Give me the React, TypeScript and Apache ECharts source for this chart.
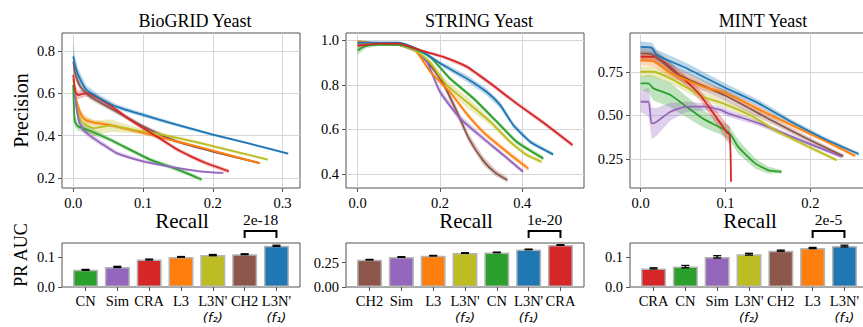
import React, { useEffect, useRef } from "react";
import * as echarts from "echarts";

const SERIF = "Liberation Serif";

const COLORS: Record<string, string> = {
  CN: "#2ca02c", Sim: "#9467bd", CRA: "#d62728", L3: "#ff7f0e", L3Nf2: "#bcbd22", CH2: "#8c564b", L3Nf1: "#1f77b4",
};

const LABELS: Record<string, string> = {
  CN: "CN", Sim: "Sim", CRA: "CRA", L3: "L3", CH2: "CH2",
  L3Nf2: "L3N'\n{i|(f₂)}",
  L3Nf1: "L3N'\n{i|(f₁)}",
};

const TITLES = ["BioGRID Yeast", "STRING Yeast", "MINT Yeast"];

// ---- PR curves: [recall, precision, band half-width] ----
const bioCH2 = [[0, 0.75, 0.04], [0.003, 0.69, 0.03], [0.01, 0.632, 0.02], [0.024, 0.585, 0.015], [0.053, 0.53, 0.012], [0.1, 0.444, 0.01], [0.148, 0.373, 0.008], [0.2, 0.325, 0.006], [0.267, 0.271, 0.005]];
const bioL3 = [[0, 0.64, 0.02], [0.005, 0.56, 0.02], [0.01, 0.507, 0.02], [0.017, 0.475, 0.015], [0.03, 0.462, 0.012], [0.053, 0.45, 0.01], [0.1, 0.413, 0.008], [0.148, 0.373, 0.007], [0.2, 0.33, 0.006], [0.267, 0.27, 0.005]];
const bioL3Nf2 = [[0, 0.67, 0.03], [0.005, 0.53, 0.04], [0.012, 0.467, 0.04], [0.029, 0.436, 0.035], [0.053, 0.448, 0.03], [0.086, 0.428, 0.015], [0.12, 0.41, 0.01], [0.181, 0.366, 0.008], [0.279, 0.287, 0.005]];
const bioCN = [[0, 0.64, 0.03], [0.002, 0.47, 0.03], [0.007, 0.443, 0.02], [0.021, 0.427, 0.015], [0.053, 0.381, 0.01], [0.086, 0.326, 0.01], [0.11, 0.287, 0.01], [0.143, 0.248, 0.01], [0.165, 0.22, 0.01], [0.184, 0.193, 0.01]];
const bioSim = [[0.002, 0.6, 0.03], [0.006, 0.5, 0.03], [0.012, 0.44, 0.02], [0.022, 0.405, 0.015], [0.039, 0.366, 0.012], [0.062, 0.318, 0.01], [0.1, 0.279, 0.008], [0.148, 0.248, 0.006], [0.181, 0.232, 0.005], [0.215, 0.224, 0.005]];
const bioCRA = [[0, 0.687, 0.03], [0.003, 0.608, 0.03], [0.007, 0.592, 0.02], [0.017, 0.6, 0.015], [0.026, 0.594, 0.012], [0.05, 0.55, 0.01], [0.075, 0.49, 0.01], [0.1, 0.436, 0.01], [0.125, 0.385, 0.01], [0.148, 0.337, 0.01], [0.17, 0.3, 0.01], [0.19, 0.271, 0.01], [0.223, 0.232, 0.01]];
const bioL3Nf1 = [[0, 0.775, 0.07], [0.002, 0.74, 0.04], [0.007, 0.687, 0.03], [0.019, 0.616, 0.02], [0.038, 0.577, 0.015], [0.062, 0.537, 0.012], [0.1, 0.498, 0.01], [0.148, 0.452, 0.008], [0.2, 0.405, 0.006], [0.253, 0.362, 0.005], [0.308, 0.315, 0.005]];

const strCH2 = [[0, 0.985, 0.01], [0.05, 0.985, 0.004], [0.1, 0.98, 0.004], [0.14, 0.955, 0.006], [0.176, 0.889, 0.01], [0.208, 0.805, 0.015], [0.241, 0.68, 0.02], [0.27, 0.56, 0.02], [0.305, 0.46, 0.02], [0.335, 0.405, 0.015], [0.364, 0.373, 0.012]];
const strL3 = [[0, 0.995, 0.005], [0.05, 0.985, 0.004], [0.1, 0.98, 0.004], [0.14, 0.955, 0.006], [0.176, 0.86, 0.01], [0.224, 0.768, 0.012], [0.265, 0.67, 0.012], [0.305, 0.588, 0.012], [0.362, 0.5, 0.012], [0.415, 0.424, 0.012]];
const strSim = [[0, 0.99, 0.005], [0.05, 0.985, 0.004], [0.1, 0.98, 0.004], [0.14, 0.955, 0.006], [0.168, 0.904, 0.01], [0.2, 0.769, 0.015], [0.249, 0.65, 0.015], [0.305, 0.56, 0.012], [0.354, 0.485, 0.01], [0.402, 0.41, 0.01]];
const strL3Nf2 = [[0, 0.99, 0.01], [0.05, 0.985, 0.005], [0.1, 0.98, 0.005], [0.14, 0.955, 0.008], [0.176, 0.9, 0.015], [0.216, 0.8, 0.02], [0.265, 0.724, 0.025], [0.322, 0.635, 0.015], [0.37, 0.545, 0.012], [0.411, 0.485, 0.01], [0.447, 0.455, 0.01]];
const strCN = [[0, 0.955, 0.02], [0.02, 0.975, 0.01], [0.05, 0.98, 0.005], [0.1, 0.98, 0.005], [0.14, 0.96, 0.006], [0.176, 0.926, 0.008], [0.224, 0.829, 0.01], [0.281, 0.74, 0.01], [0.338, 0.635, 0.01], [0.386, 0.545, 0.01], [0.451, 0.47, 0.01]];
const strL3Nf1 = [[0, 0.99, 0.01], [0.05, 0.99, 0.004], [0.1, 0.99, 0.004], [0.151, 0.956, 0.006], [0.2, 0.897, 0.01], [0.265, 0.829, 0.015], [0.313, 0.769, 0.015], [0.346, 0.71, 0.015], [0.378, 0.62, 0.012], [0.419, 0.545, 0.01], [0.475, 0.488, 0.008]];
const strCRA = [[0, 0.975, 0.01], [0.05, 0.985, 0.005], [0.1, 0.985, 0.005], [0.151, 0.956, 0.006], [0.208, 0.926, 0.008], [0.265, 0.882, 0.01], [0.322, 0.807, 0.01], [0.386, 0.717, 0.01], [0.459, 0.62, 0.01], [0.522, 0.53, 0.01]];

const mintCH2 = [[0, 0.855, 0.04], [0.015, 0.846, 0.04], [0.042, 0.74, 0.035], [0.099, 0.615, 0.03], [0.158, 0.462, 0.02], [0.198, 0.362, 0.015], [0.239, 0.267, 0.012]];
const mintL3 = [[0, 0.817, 0.03], [0.015, 0.81, 0.03], [0.035, 0.745, 0.025], [0.074, 0.664, 0.02], [0.099, 0.63, 0.02], [0.158, 0.49, 0.015], [0.217, 0.355, 0.012], [0.253, 0.268, 0.01]];
const mintL3Nf2 = [[0, 0.75, 0.03], [0.015, 0.75, 0.03], [0.035, 0.712, 0.03], [0.074, 0.607, 0.025], [0.099, 0.565, 0.02], [0.129, 0.502, 0.02], [0.158, 0.416, 0.015], [0.198, 0.32, 0.012], [0.231, 0.244, 0.01]];
const mintCN = [[0, 0.683, 0.04], [0.009, 0.683, 0.05], [0.015, 0.655, 0.07], [0.035, 0.617, 0.07], [0.054, 0.55, 0.06], [0.074, 0.48, 0.05], [0.094, 0.43, 0.04], [0.105, 0.397, 0.04], [0.115, 0.32, 0.04], [0.135, 0.225, 0.03], [0.15, 0.187, 0.02], [0.166, 0.177, 0.01]];
const mintSim = [[0, 0.578, 0.06], [0.009, 0.578, 0.08], [0.013, 0.454, 0.09], [0.019, 0.464, 0.08], [0.035, 0.521, 0.05], [0.054, 0.55, 0.03], [0.074, 0.55, 0.02], [0.094, 0.531, 0.02], [0.103, 0.512, 0.02], [0.139, 0.455, 0.015], [0.178, 0.378, 0.012], [0.217, 0.302, 0.01], [0.237, 0.263, 0.01]];
const mintCRA = [[0, 0.836, 0.03], [0.015, 0.836, 0.03], [0.027, 0.807, 0.03], [0.05, 0.712, 0.03], [0.07, 0.617, 0.03], [0.09, 0.483, 0.04], [0.101, 0.406, 0.05], [0.105, 0.387, 0.05], [0.1065, 0.12, 0.01]];
const mintL3Nf1 = [[0, 0.893, 0.03], [0.013, 0.888, 0.03], [0.019, 0.846, 0.03], [0.054, 0.77, 0.03], [0.099, 0.66, 0.025], [0.139, 0.569, 0.02], [0.178, 0.462, 0.015], [0.217, 0.365, 0.012], [0.257, 0.279, 0.01]];

const BIO_CURVES: [string, number[][]][] = [["CH2", bioCH2], ["L3", bioL3], ["L3Nf2", bioL3Nf2], ["CN", bioCN], ["Sim", bioSim], ["CRA", bioCRA], ["L3Nf1", bioL3Nf1]];
const STR_CURVES: [string, number[][]][] = [["CH2", strCH2], ["Sim", strSim], ["L3", strL3], ["L3Nf2", strL3Nf2], ["CN", strCN], ["L3Nf1", strL3Nf1], ["CRA", strCRA]];
const MINT_CURVES: [string, number[][]][] = [["CN", mintCN], ["Sim", mintSim], ["L3Nf2", mintL3Nf2], ["CRA", mintCRA], ["CH2", mintCH2], ["L3", mintL3], ["L3Nf1", mintL3Nf1]];

const BIO_X_TICKS = [0, 0.1, 0.2, 0.3];
const BIO_Y_TICKS = [0.2, 0.4, 0.6, 0.8];
const STR_X_TICKS = [0, 0.2, 0.4];
const STR_Y_TICKS = [0.4, 0.6, 0.8, 1.0];
const MINT_X_TICKS = [0, 0.1, 0.2];
const MINT_Y_TICKS = [0.25, 0.5, 0.75];

// ---- PR AUC bars ----
const BIO_BAR_METHODS = ["CN", "Sim", "CRA", "L3", "L3Nf2", "CH2", "L3Nf1"];
const BIO_BAR_AUC = [0.058, 0.068, 0.093, 0.102, 0.108, 0.111, 0.1395];
const BIO_BAR_ERR = [0.0015, 0.002, 0.0015, 0.0012, 0.002, 0.0015, 0.002];
const BIO_PVALUE = "2e-18";
const BIO_BAR_TICKS = [0, 0.1];

const STR_BAR_METHODS = ["CH2", "Sim", "L3", "L3Nf2", "CN", "L3Nf1", "CRA"];
const STR_BAR_AUC = [0.281, 0.309, 0.322, 0.35, 0.356, 0.387, 0.432];
const STR_BAR_ERR = [0.003, 0.003, 0.003, 0.003, 0.003, 0.003, 0.003];
const STR_PVALUE = "1e-20";
const STR_BAR_TICKS = [0, 0.25];

const MINT_BAR_METHODS = ["CRA", "CN", "Sim", "L3Nf2", "CH2", "L3", "L3Nf1"];
const MINT_BAR_AUC = [0.063, 0.069, 0.102, 0.111, 0.123, 0.132, 0.1385];
const MINT_BAR_ERR = [0.002, 0.004, 0.004, 0.003, 0.002, 0.002, 0.003];
const MINT_PVALUE = "2e-5";
const MINT_BAR_TICKS = [0, 0.1];

const BAR_POSITIONS = [0, 1, 2, 3, 4, 5, 6];
const BAR_X_MIN = -0.74;
const BAR_X_MAX = 6.74;

const TOP_PANELS = [
  { curves: BIO_CURVES, xMin: -0.0162, xMax: 0.325, xTicks: BIO_X_TICKS, yMin: 0.153, yMax: 0.885, yTicks: BIO_Y_TICKS, yDec: 1, left: 62 },
  { curves: STR_CURVES, xMin: -0.0284, xMax: 0.55, xTicks: STR_X_TICKS, yMin: 0.337, yMax: 1.033, yTicks: STR_Y_TICKS, yDec: 1, left: 346 },
  { curves: MINT_CURVES, xMin: -0.0126, xMax: 0.268, xTicks: MINT_X_TICKS, yMin: 0.084, yMax: 0.972, yTicks: MINT_Y_TICKS, yDec: 2, left: 630 },
];

const BAR_PANELS = [
  { methods: BIO_BAR_METHODS, auc: BIO_BAR_AUC, err: BIO_BAR_ERR, p: BIO_PVALUE, yMax: 0.149, yTicks: BIO_BAR_TICKS, yDec: 1, left: 62 },
  { methods: STR_BAR_METHODS, auc: STR_BAR_AUC, err: STR_BAR_ERR, p: STR_PVALUE, yMax: 0.453, yTicks: STR_BAR_TICKS, yDec: 2, left: 346 },
  { methods: MINT_BAR_METHODS, auc: MINT_BAR_AUC, err: MINT_BAR_ERR, p: MINT_PVALUE, yMax: 0.149, yTicks: MINT_BAR_TICKS, yDec: 1, left: 630 },
];

const FRAME = "#555555";
const GRIDLINE = "#d6d6d6";
const PANEL_W = 238;

function buildOption() {
  const grid: any[] = [];
  const xAxis: any[] = [];
  const yAxis: any[] = [];
  const series: any[] = [];
  const graphic: any[] = [];

  const tickStyle = { show: true, length: 4, inside: false, lineStyle: { color: FRAME, width: 1 } };
  const labelBase = { fontFamily: SERIF, fontSize: 14.5, color: "#000" };

  TOP_PANELS.forEach((pnl, k) => {
    grid.push({ left: pnl.left, top: 33, width: PANEL_W, height: 155, show: true, borderColor: FRAME, borderWidth: 1, outerBoundsMode: "none", containLabel: false });
    xAxis.push({
      type: "value", gridIndex: k, min: pnl.xMin, max: pnl.xMax,
      axisLine: { show: false, onZero: false },
      axisTick: { ...tickStyle, customValues: pnl.xTicks },
      axisLabel: { ...labelBase, customValues: pnl.xTicks, margin: 7, formatter: (v: number) => v.toFixed(1) },
      splitLine: { show: true, lineStyle: { color: GRIDLINE, width: 1 } },
    });
    yAxis.push({
      type: "value", gridIndex: k, min: pnl.yMin, max: pnl.yMax,
      axisLine: { show: false, onZero: false },
      axisTick: { ...tickStyle, customValues: pnl.yTicks },
      axisLabel: { ...labelBase, customValues: pnl.yTicks, margin: 7, formatter: (v: number) => v.toFixed(pnl.yDec) },
      splitLine: { show: true, lineStyle: { color: GRIDLINE, width: 1 } },
    });
    pnl.curves.forEach(([m, pts]) => {
      const color = COLORS[m];
      series.push({
        type: "custom", xAxisIndex: k, yAxisIndex: k, clip: true, silent: true, z: 2,
        data: [[pts[0][0], pts[0][1]]],
        renderItem: (params: any, api: any) => {
          const upper = pts.map((d) => api.coord([d[0], d[1] + d[2]]));
          const lower = pts.map((d) => api.coord([d[0], d[1] - d[2]])).reverse();
          return { type: "polygon", shape: { points: upper.concat(lower) }, style: { fill: color, opacity: 0.3 } };
        },
      });
      series.push({
        type: "line", xAxisIndex: k, yAxisIndex: k, silent: true, z: 3,
        data: pts.map((d) => [d[0], d[1]]),
        showSymbol: false, symbol: "none", smooth: 0.2, clip: true,
        lineStyle: { color, width: 1.8 },
      });
    });
    graphic.push({ type: "text", x: pnl.left + PANEL_W / 2 + 14, y: 21, silent: true, style: { text: TITLES[k], font: `18px ${SERIF}`, fill: "#000", textAlign: "center", textVerticalAlign: "middle" } });
    graphic.push({ type: "text", x: pnl.left + PANEL_W / 2 + 1, y: 221, silent: true, style: { text: "Recall", font: `21px ${SERIF}`, fill: "#000", textAlign: "center", textVerticalAlign: "middle" } });
  });

  BAR_PANELS.forEach((pnl, j) => {
    const k = 3 + j;
    grid.push({ left: pnl.left, top: 243, width: PANEL_W, height: 44, show: true, borderColor: FRAME, borderWidth: 1, outerBoundsMode: "none", containLabel: false });
    xAxis.push({
      type: "value", gridIndex: k, min: BAR_X_MIN, max: BAR_X_MAX,
      axisLine: { show: false, onZero: false },
      axisTick: { ...tickStyle, customValues: BAR_POSITIONS },
      axisLabel: {
        ...labelBase, customValues: BAR_POSITIONS, margin: 6, lineHeight: 16,
        formatter: (v: number) => LABELS[pnl.methods[Math.round(v)]],
        rich: { i: { fontFamily: "DejaVu Sans", fontStyle: "italic", fontSize: 13, lineHeight: 16, color: "#000" } },
      },
      splitLine: { show: false },
    });
    yAxis.push({
      type: "value", gridIndex: k, min: 0, max: pnl.yMax,
      axisLine: { show: false, onZero: false },
      axisTick: { ...tickStyle, customValues: pnl.yTicks },
      axisLabel: { ...labelBase, customValues: pnl.yTicks, margin: 7, formatter: (v: number) => v.toFixed(pnl.yDec) },
      splitLine: { show: false },
    });
    series.push({
      type: "bar", xAxisIndex: k, yAxisIndex: k, barWidth: 25, silent: true,
      data: pnl.methods.map((m, i) => ({ value: [BAR_POSITIONS[i], pnl.auc[i]], itemStyle: { color: COLORS[m] } })),
      itemStyle: { borderColor: "#b5b5b5", borderWidth: 1.5 },
    });
    series.push({
      type: "custom", xAxisIndex: k, yAxisIndex: k, silent: true, z: 5, clip: false,
      data: pnl.methods.map((m, i) => [BAR_POSITIONS[i], pnl.auc[i], pnl.err[i]]),
      renderItem: (params: any, api: any) => {
        const x = api.value(0), y = api.value(1), e = api.value(2);
        const t = api.coord([x, y + e]);
        const b = api.coord([x, y - e]);
        const st = { stroke: "#000", lineWidth: 1.3 };
        return {
          type: "group", children: [
            { type: "line", shape: { x1: t[0], y1: t[1], x2: b[0], y2: b[1] }, style: st },
            { type: "line", shape: { x1: t[0] - 4, y1: t[1], x2: t[0] + 4, y2: t[1] }, style: st },
            { type: "line", shape: { x1: b[0] - 4, y1: b[1], x2: b[0] + 4, y2: b[1] }, style: st },
          ],
        };
      },
    });
    series.push({
      type: "custom", xAxisIndex: k, yAxisIndex: k, silent: true, z: 5, clip: false,
      data: [[BAR_POSITIONS[5], BAR_POSITIONS[6]]],
      renderItem: (params: any, api: any) => {
        const a = api.coord([api.value(0), 0]);
        const b = api.coord([api.value(1), 0]);
        const top = params.coordSys.y;
        return {
          type: "group", children: [
            { type: "polyline", shape: { points: [[a[0], top - 5], [a[0], top - 12], [b[0], top - 12], [b[0], top - 5]] }, style: { stroke: "#000", lineWidth: 2, fill: null } },
            { type: "text", x: (a[0] + b[0]) / 2, y: top - 23.5, style: { text: pnl.p, fontFamily: SERIF, fontSize: 15.5, fill: "#000", textAlign: "center", textVerticalAlign: "middle" } },
          ],
        };
      },
    });
  });

  graphic.push({ type: "text", x: 21, y: 110.5, rotation: Math.PI / 2, silent: true, style: { text: "Precision", font: `20px ${SERIF}`, fill: "#000", textAlign: "center", textVerticalAlign: "middle" } });
  graphic.push({ type: "text", x: 21, y: 255, rotation: Math.PI / 2, silent: true, style: { text: "PR AUC", font: `18px ${SERIF}`, fill: "#000", textAlign: "center", textVerticalAlign: "middle" } });

  return { animation: false, backgroundColor: "#ffffff", textStyle: { fontFamily: SERIF }, grid, xAxis, yAxis, series, graphic };
}

export default function App() {
  const ref = useRef<HTMLDivElement>(null);
  useEffect(() => {
    if (!ref.current) return;
    const chart = echarts.init(ref.current, null, { renderer: "svg" });
    chart.setOption(buildOption() as any);
    return () => chart.dispose();
  }, []);
  return <div ref={ref} style={{ position: "fixed", left: 0, top: 0, width: 863, height: 327, background: "#fff" }} />;
}
